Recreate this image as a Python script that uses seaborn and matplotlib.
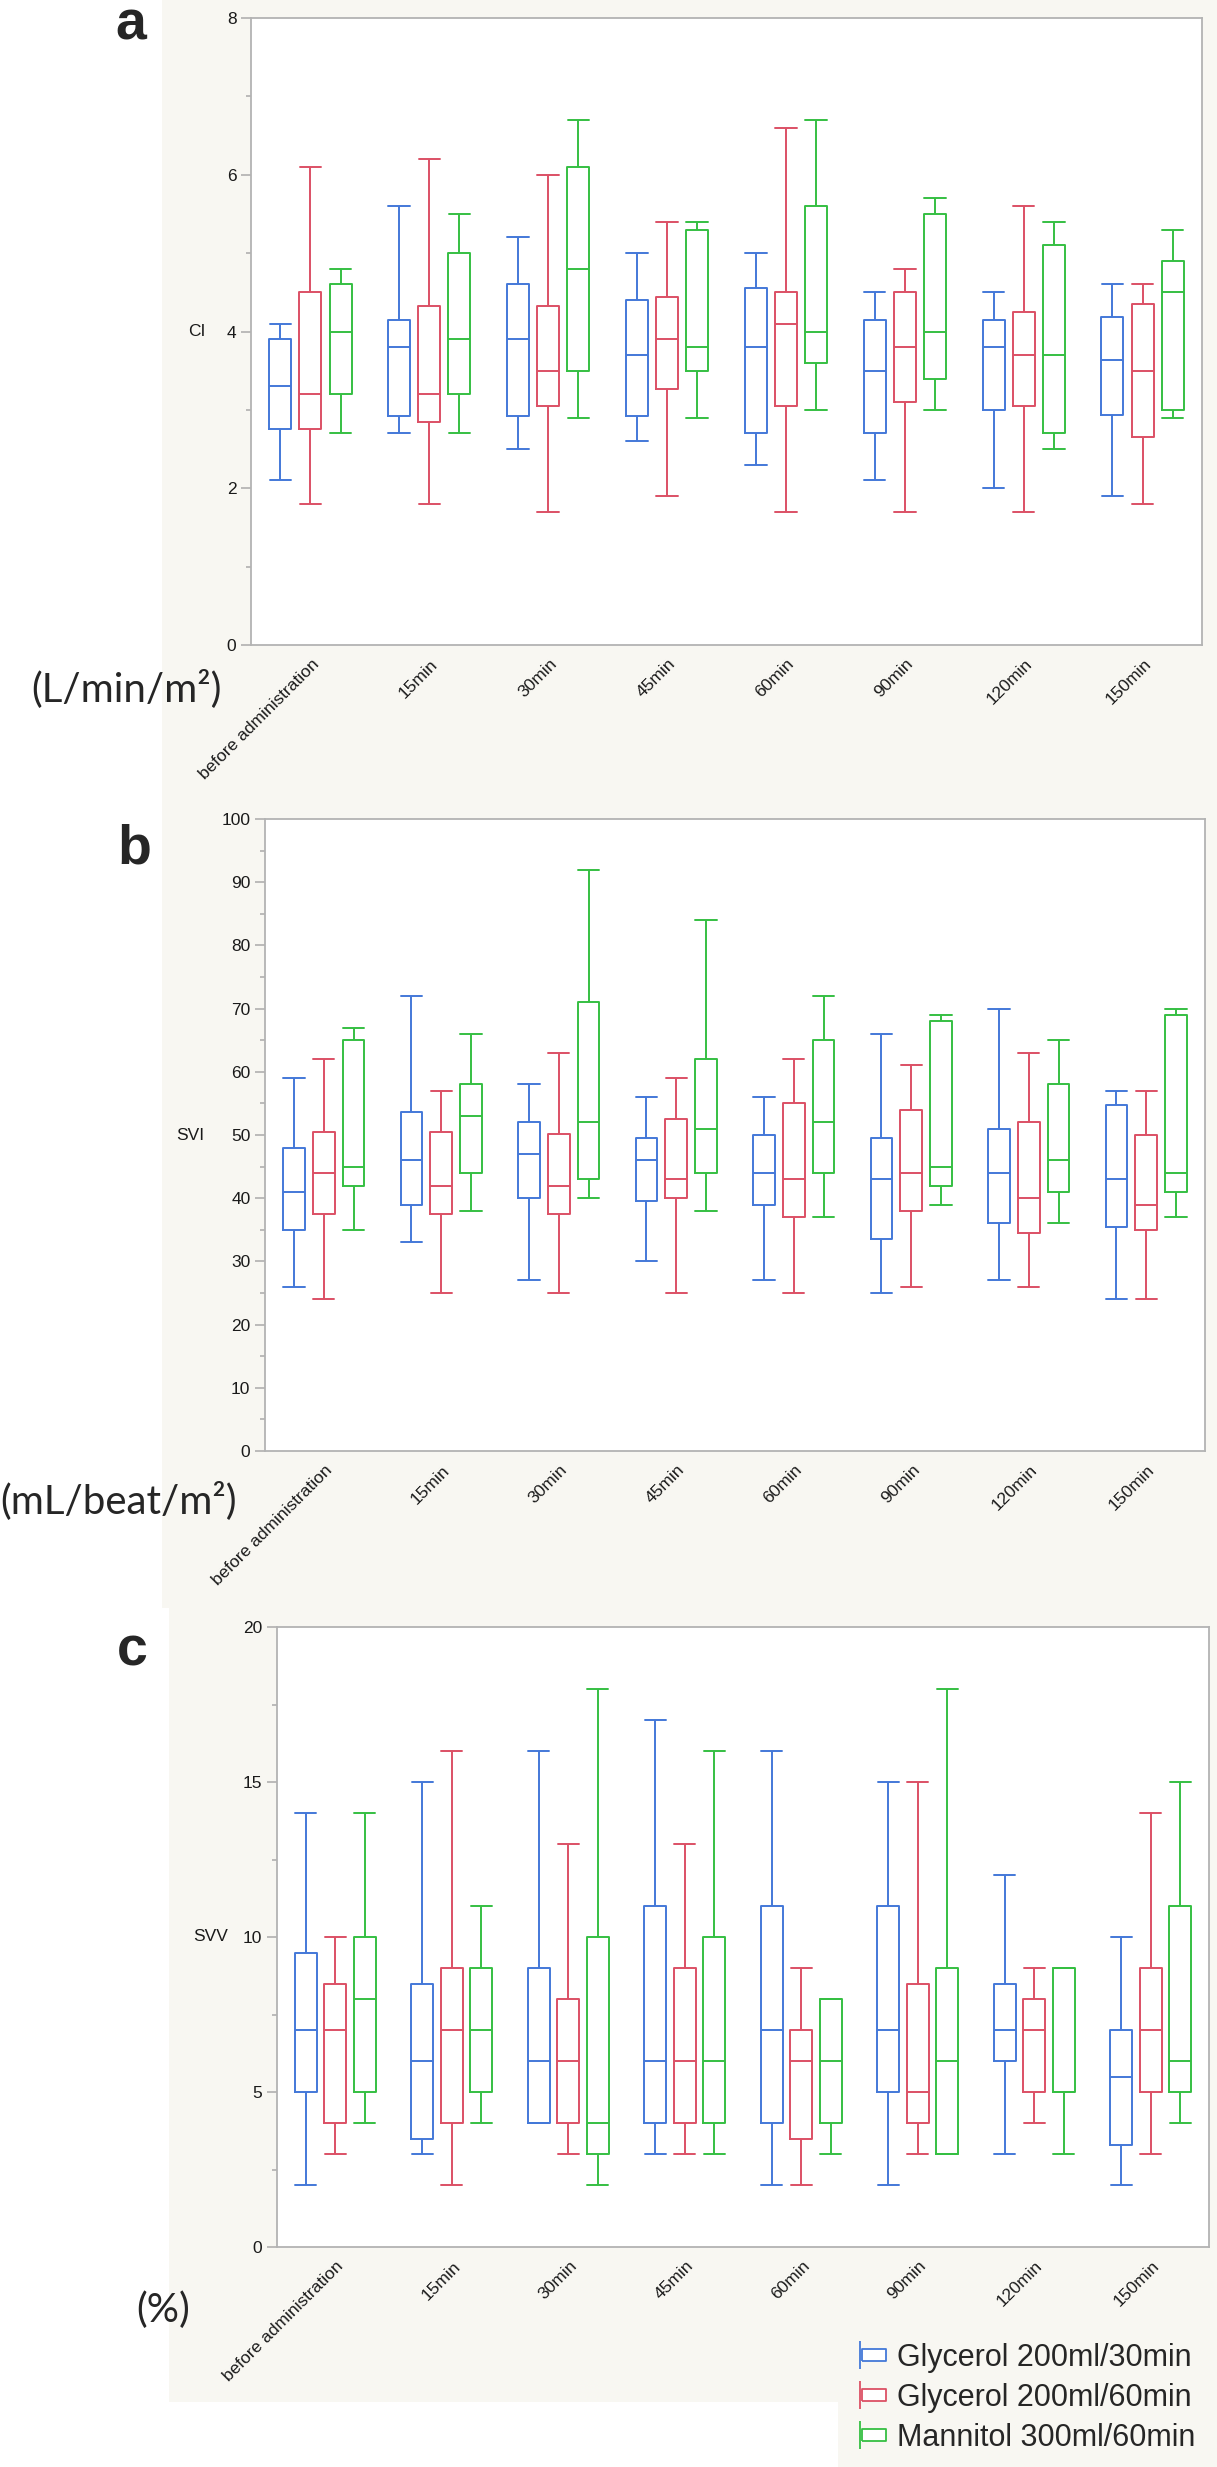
import matplotlib
matplotlib.use("Agg")
import matplotlib.pyplot as plt
import pandas as pd
import seaborn as sns
from matplotlib.lines import Line2D
from matplotlib.patches import Rectangle
from matplotlib.legend_handler import HandlerTuple
from matplotlib.transforms import ScaledTranslation

# categories / groups
times = ["before administration", "15min", "30min", "45min",
         "60min", "90min", "120min", "150min"]
groups = ["Glycerol 200ml/30min", "Glycerol 200ml/60min", "Mannitol 300ml/60min"]
colors = ["#4378d8", "#dc5065", "#35bf42"]

# five-number summaries (min, Q1, median, Q3, max)
ci_gly30 = [(2.1, 2.75, 3.3, 3.9, 4.1), (2.7, 2.92, 3.8, 4.15, 5.6), (2.5, 2.92, 3.9, 4.6, 5.2),
            (2.6, 2.92, 3.7, 4.4, 5.0), (2.3, 2.7, 3.8, 4.55, 5.0), (2.1, 2.7, 3.5, 4.15, 4.5),
            (2.0, 3.0, 3.8, 4.15, 4.5), (1.9, 2.93, 3.64, 4.18, 4.6)]
ci_gly60 = [(1.8, 2.75, 3.2, 4.5, 6.1), (1.8, 2.84, 3.2, 4.32, 6.2), (1.7, 3.05, 3.5, 4.32, 6.0),
            (1.9, 3.26, 3.9, 4.44, 5.4), (1.7, 3.05, 4.1, 4.5, 6.6), (1.7, 3.1, 3.8, 4.5, 4.8),
            (1.7, 3.05, 3.7, 4.25, 5.6), (1.8, 2.66, 3.5, 4.35, 4.6)]
ci_man = [(2.7, 3.2, 4.0, 4.6, 4.8), (2.7, 3.2, 3.9, 5.0, 5.5), (2.9, 3.5, 4.8, 6.1, 6.7),
          (2.9, 3.5, 3.8, 5.3, 5.4), (3.0, 3.6, 4.0, 5.6, 6.7), (3.0, 3.4, 4.0, 5.5, 5.7),
          (2.5, 2.7, 3.7, 5.1, 5.4), (2.9, 3.0, 4.5, 4.9, 5.3)]

svi_gly30 = [(26, 35, 41, 48, 59), (33, 39, 46, 53.6, 72), (27, 40, 47, 52, 58), (30, 39.5, 46, 49.5, 56),
             (27, 39, 44, 50, 56), (25, 33.5, 43, 49.5, 66), (27, 36, 44, 51, 70), (24, 35.5, 43, 54.8, 57)]
svi_gly60 = [(24, 37.5, 44, 50.5, 62), (25, 37.5, 42, 50.5, 57), (25, 37.5, 42, 50.2, 63), (25, 40, 43, 52.5, 59),
             (25, 37, 43, 55, 62), (26, 38, 44, 54, 61), (26, 34.5, 40, 52, 63), (24, 35, 39, 50, 57)]
svi_man = [(35, 42, 45, 65, 67), (38, 44, 53, 58, 66), (40, 43, 52, 71, 92), (38, 44, 51, 62, 84),
           (37, 44, 52, 65, 72), (39, 42, 45, 68, 69), (36, 41, 46, 58, 65), (37, 41, 44, 69, 70)]

svv_gly30 = [(2, 5, 7, 9.5, 14), (3, 3.5, 6, 8.5, 15), (4, 4, 6, 9, 16), (3, 4, 6, 11, 17),
             (2, 4, 7, 11, 16), (2, 5, 7, 11, 15), (3, 6, 7, 8.5, 12), (2, 3.3, 5.5, 7, 10)]
svv_gly60 = [(3, 4, 7, 8.5, 10), (2, 4, 7, 9, 16), (3, 4, 6, 8, 13), (3, 4, 6, 9, 13),
             (2, 3.5, 6, 7, 9), (3, 4, 5, 8.5, 15), (4, 5, 7, 8, 9), (3, 5, 7, 9, 14)]
svv_man = [(4, 5, 8, 10, 14), (4, 5, 7, 9, 11), (2, 3, 4, 10, 18), (3, 4, 6, 10, 16),
           (3, 4, 6, 8, 8), (3, 3, 6, 9, 18), (3, 5, 5, 9, 9), (4, 5, 6, 11, 15)]

W, H = 1217, 2467
beige = "#f8f7f2"

sns.set_style("white")
plt.rcParams["font.family"] = ["Liberation Sans", "DejaVu Sans"]


def long_form(series):
    # five points per box -> quartiles land exactly on the summary values
    rows = []
    for group, stats in zip(groups, series):
        for t, five in zip(times, stats):
            for v in five:
                rows.append((t, group, v))
    return pd.DataFrame(rows, columns=["time", "group", "value"])


def add_axes(fig, l, t, r, b):
    return fig.add_axes([l / W, 1 - b / H, (r - l) / W, (b - t) / H])


def draw_panel(fig, ax, df, ylim, major, minor, ylabel, label_x):
    sns.boxplot(data=df, x="time", y="value", hue="group", order=times, hue_order=groups,
                palette=colors, fill=False, width=0.76, gap=0.27, whis=(0, 100),
                linewidth=1.4, showfliers=False, legend=False, capwidths=0.18, ax=ax)
    ax.set_facecolor("white")
    ax.set_xlim(-0.5, len(times) - 0.5)
    ax.set_ylim(*ylim)
    ax.set_yticks(major)
    ax.set_yticks(minor, minor=True)
    ax.set_xticks(range(len(times)))
    ax.set_xticklabels(times, rotation=45, ha="right", va="center", rotation_mode="anchor")
    ax.tick_params(axis="x", length=0, pad=12, labelsize=12.5, labelcolor="#1a1a1a")
    ax.tick_params(axis="y", which="major", left=True, length=7, width=1.1, color="#aaaaaa",
                   pad=3.5, labelsize=12.5, labelcolor="#1a1a1a")
    ax.tick_params(axis="y", which="minor", left=True, length=3.5, width=1.1, color="#aaaaaa")
    offset = ScaledTranslation(6 / 100, 0, fig.dpi_scale_trans)
    for lab in ax.get_xticklabels():
        lab.set_transform(lab.get_transform() + offset)
    for sp in ax.spines.values():
        sp.set_visible(True)
        sp.set_color("#b3b3b3")
        sp.set_linewidth(1.3)
    ax.set_xlabel("")
    ax.set_ylabel(ylabel, rotation=0, ha="right", va="center", fontsize=12.5, color="#1a1a1a")
    ax.yaxis.set_label_coords(label_x, 0.5)


fig = plt.figure(figsize=(W / 100, H / 100), dpi=100, facecolor="white")

# beige panel backgrounds
fig.add_artist(Rectangle((162 / W, 1 - 1608 / H), (W - 162) / W, 1608 / H,
                         transform=fig.transFigure, facecolor=beige, edgecolor="none", zorder=-1))
fig.add_artist(Rectangle((169 / W, 1 - 2402 / H), (W - 169) / W, (2402 - 1608) / H,
                         transform=fig.transFigure, facecolor=beige, edgecolor="none", zorder=-1))
fig.add_artist(Rectangle((838 / W, 0), (W - 838) / W, (H - 2402) / H,
                         transform=fig.transFigure, facecolor=beige, edgecolor="none", zorder=-1))

ax_a = add_axes(fig, 251, 18, 1202, 645)
draw_panel(fig, ax_a, long_form([ci_gly30, ci_gly60, ci_man]), (0, 8),
           [0, 2, 4, 6, 8], [1, 3, 5, 7], "CI", -0.048)

ax_b = add_axes(fig, 265, 819, 1205, 1451)
draw_panel(fig, ax_b, long_form([svi_gly30, svi_gly60, svi_man]), (0, 100),
           list(range(0, 101, 10)), list(range(5, 100, 10)), "SVI", -0.065)

ax_c = add_axes(fig, 277, 1627, 1209, 2247)
draw_panel(fig, ax_c, long_form([svv_gly30, svv_gly60, svv_man]), (0, 20),
           [0, 5, 10, 15, 20], [2.5, 7.5, 12.5, 17.5], "SVV", -0.053)

# panel letters
for letter, x, y in [("a", 131, 40), ("b", 134, 863), ("c", 132, 1665)]:
    fig.text(x / W, 1 - y / H, letter, fontsize=40, fontweight="bold",
             ha="center", va="baseline")

# unit labels
unit_font = ["Lato", "DejaVu Sans"]
fig.text(31 / W, 1 - 689 / H, "(L/min/m²)", fontsize=29, family=unit_font, ha="left", va="center")
fig.text(0 / W, 1 - 1501 / H, "(mL/beat/m²)", fontsize=29, family=unit_font, ha="left", va="center")
fig.text(136 / W, 1 - 2310 / H, "(%)", fontsize=29, family=unit_font, ha="left", va="center")

# legend with box-and-whisker style icons
rect_marker = [(-1, -0.55), (1, -0.55), (1, 0.55), (-1, 0.55), (-1, -0.55)]
handles = []
for c in colors:
    whisker = Line2D([], [], ls="none", marker="|", markersize=20, mew=1.3, color=c)
    box = Line2D([], [], ls="none", marker=rect_marker, markersize=17,
                 mfc="white", mec=c, mew=1.3)
    handles.append((whisker, box))
fig.legend(handles, groups, loc="center left", bbox_to_anchor=(853 / W, 1 - 2398 / H),
           frameon=False, fontsize=22, handlelength=0.9, handletextpad=0.55,
           labelspacing=0.33, borderpad=0, borderaxespad=0,
           handler_map={tuple: HandlerTuple(ndivide=None, pad=0)})

fig.savefig("out.png", dpi=100, facecolor="white")
